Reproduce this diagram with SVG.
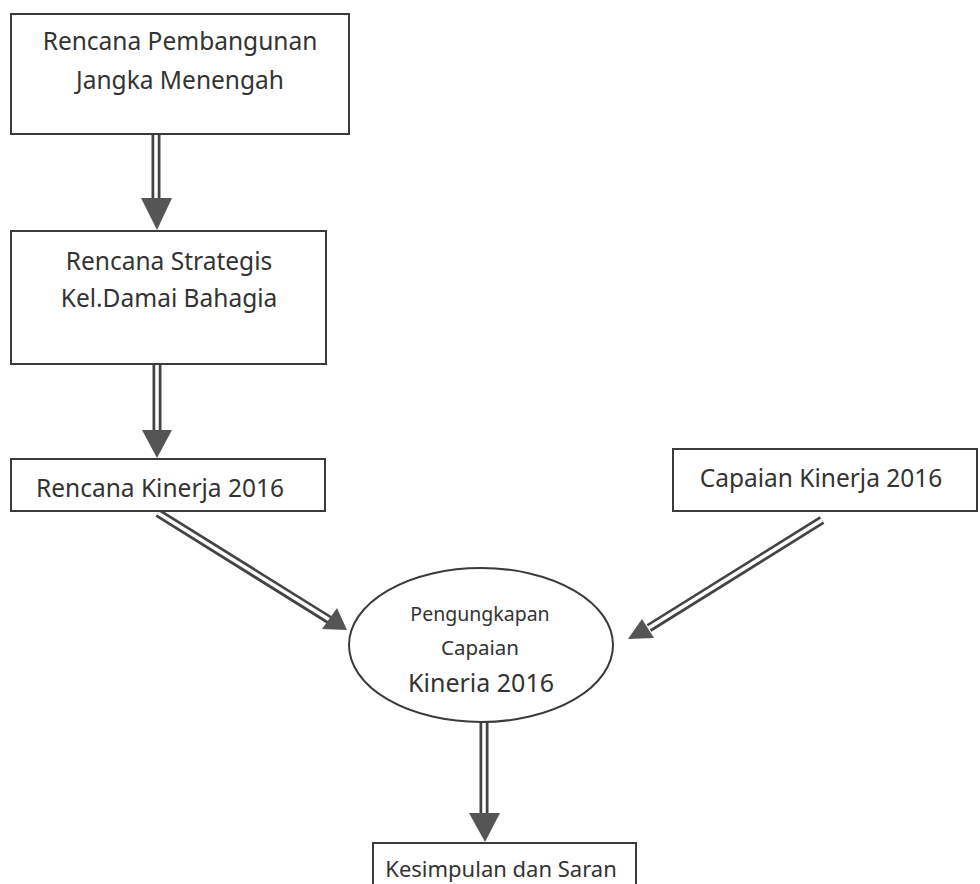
<svg xmlns="http://www.w3.org/2000/svg" width="980" height="884" viewBox="0 0 980 884">
<style>
.box{fill:#fff;stroke:#3a3a3a;stroke-width:2}
.t{font-family:"Noto Sans","DejaVu Sans",sans-serif;fill:#333;text-anchor:middle}
.outer{stroke:#444;stroke-width:9;fill:none}
.inner{stroke:#fff;stroke-width:3.5;fill:none}
.head{fill:#555}
</style>
<rect width="980" height="884" fill="#fff"/>
<g id="connectors">
<line class="outer" x1="156" y1="135" x2="156" y2="201"/><line class="inner" x1="156" y1="135" x2="156" y2="203"/>
<polygon class="head" points="141,198 172,198 157,230"/>
<line class="outer" x1="157" y1="365" x2="157" y2="432"/><line class="inner" x1="157" y1="365" x2="157" y2="434"/>
<polygon class="head" points="142,430 172,430 157,458"/>
<line class="outer" x1="158" y1="513" x2="331" y2="621" stroke-width="8"/><line class="inner" x1="158" y1="513" x2="333" y2="622" stroke-width="3"/>
<polygon class="head" points="347,630 322,629 337,608"/>
<line class="outer" x1="822" y1="520" x2="649" y2="628" stroke-width="8"/><line class="inner" x1="822" y1="520" x2="647" y2="629" stroke-width="3"/>
<polygon class="head" points="628,639 642,619 654,638"/>
<line class="outer" x1="484" y1="722" x2="484" y2="815"/><line class="inner" x1="484" y1="722" x2="484" y2="817"/>
<polygon class="head" points="469,813 500,813 485,842"/>
</g>
<g id="rpjm">
<rect class="box" x="11" y="14" width="338" height="120"/>
<text class="t" x="180" y="50" font-size="24.5">Rencana Pembangunan</text>
<text class="t" x="180" y="89" font-size="24.5">Jangka Menengah</text>
</g>
<g id="renstra">
<rect class="box" x="11" y="231" width="315" height="133"/>
<text class="t" x="169" y="270" font-size="24.5">Rencana Strategis</text>
<text class="t" x="169" y="307" font-size="24.5">Kel.Damai Bahagia</text>
</g>
<g id="renkin">
<rect class="box" x="11" y="459" width="314" height="52"/>
<text class="t" x="160" y="497" font-size="24.5">Rencana Kinerja 2016</text>
</g>
<g id="capaian">
<rect class="box" x="673" y="449" width="304" height="62"/>
<text class="t" x="821" y="487" font-size="24.5">Capaian Kinerja 2016</text>
</g>
<g id="pengungkapan">
<ellipse class="box" cx="481" cy="645" rx="132" ry="77"/>
<text class="t" x="480" y="621" font-size="19.5">Pengungkapan</text>
<text class="t" x="480" y="655" font-size="20.5">Capaian</text>
<text class="t" x="481" y="692" font-size="25">Kineria 2016</text>
</g>
<g id="kesimpulan">
<rect class="box" x="373" y="843" width="263" height="60"/>
<text class="t" x="501" y="877" font-size="22">Kesimpulan dan Saran</text>
</g>
</svg>
